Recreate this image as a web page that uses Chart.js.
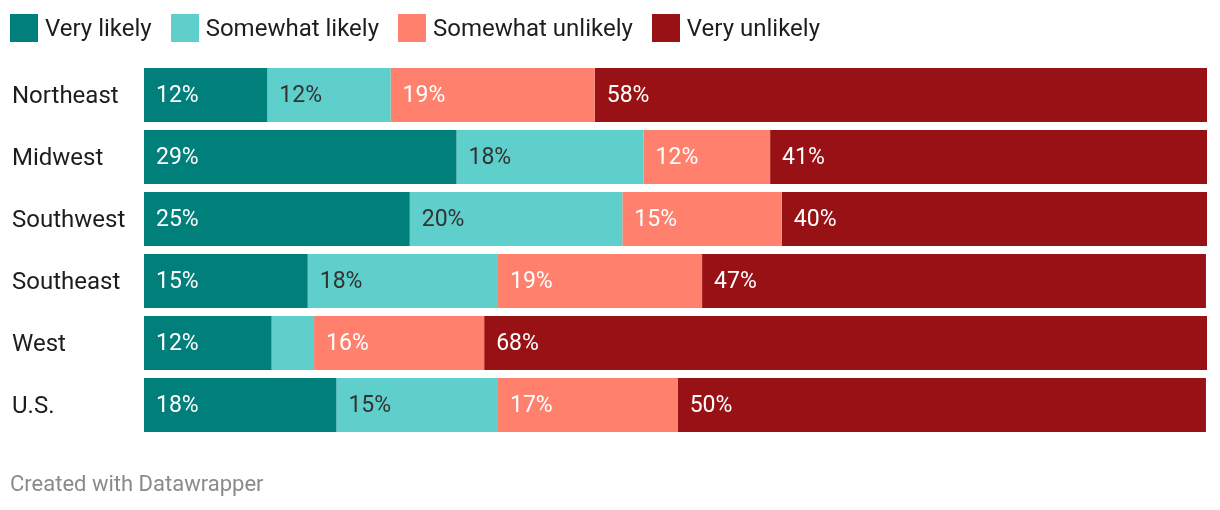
<!DOCTYPE html>
<html>
<head>
<meta charset="utf-8">
<script src="https://cdn.jsdelivr.net/npm/chart.js@4/dist/chart.umd.min.js"></script>
<style>
  html, body { margin: 0; padding: 0; background: #ffffff; }
  body { width: 1220px; height: 510px; position: relative; overflow: hidden; font-family: Roboto, sans-serif; }
  #legend { position: absolute; left: 10px; top: 14px; display: flex; align-items: center; }
  .item { display: flex; align-items: center; margin-right: 19px; }
  .swatch { width: 28px; height: 28px; margin-right: 7px; }
  .item span { font-size: 24px; color: #1d1d1d; line-height: 28px; }
  #wrap { position: absolute; left: 0; top: 0; width: 1220px; height: 510px; }
  #footer { position: absolute; left: 10px; top: 471px; font-size: 22px; color: #8a8a8a; }
</style>
</head>
<body>
<div id="wrap"><canvas id="chart"></canvas></div>
<div id="legend"></div>
<div id="footer">Created with Datawrapper</div>
<script>
const regions = ["Northeast", "Midwest", "Southwest", "Southeast", "West", "U.S."];
const seriesNames = ["Very likely", "Somewhat likely", "Somewhat unlikely", "Very unlikely"];
const veryLikely = [11.6, 29.4, 25.0, 15.4, 12.0, 18.1];
const somewhatLikely = [11.6, 17.6, 20.0, 17.9, 4.0, 15.2];
const somewhatUnlikely = [19.2, 11.9, 15.0, 19.2, 16.0, 16.9];
const veryUnlikely = [57.6, 41.2, 40.1, 47.4, 68.1, 49.7];
const colors = ["#007f7b", "#5ecfca", "#ff806c", "#971115"];
const labelColors = ["#ffffff", "#333333", "#ffffff", "#ffffff"];

const legend = document.getElementById("legend");
seriesNames.forEach((name, i) => {
  const item = document.createElement("div");
  item.className = "item";
  item.innerHTML = '<div class="swatch" style="background:' + colors[i] + '"></div><span>' + name + '</span>';
  legend.appendChild(item);
});

// draws "12%" style labels at the left edge of each segment
const segmentLabels = {
  id: "segmentLabels",
  afterDatasetsDraw(chart) {
    const ctx = chart.ctx;
    ctx.save();
    ctx.font = "23px Roboto";
    ctx.textBaseline = "middle";
    ctx.textAlign = "left";
    chart.data.datasets.forEach((ds, i) => {
      const meta = chart.getDatasetMeta(i);
      meta.data.forEach((bar, j) => {
        const w = Math.abs(bar.x - bar.base);
        if (w < 50) return;
        ctx.fillStyle = labelColors[i];
        ctx.fillText(Math.round(ds.data[j]) + "%", Math.min(bar.x, bar.base) + 12, bar.y + 1);
      });
    });
    ctx.restore();
  }
};

const allSeries = [veryLikely, somewhatLikely, somewhatUnlikely, veryUnlikely];

new Chart(document.getElementById("chart"), {
  type: "bar",
  data: {
    labels: regions,
    datasets: allSeries.map((d, i) => ({
      label: seriesNames[i],
      data: d,
      backgroundColor: colors[i],
      borderWidth: 0,
      barPercentage: 54 / 62,
      categoryPercentage: 1,
    })),
  },
  options: {
    indexAxis: "y",
    responsive: true,
    maintainAspectRatio: false,
    animation: false,
    layout: {
      padding: { left: 12, right: 13, top: 64, bottom: 74 },
    },
    plugins: {
      legend: { display: false },
      tooltip: { enabled: false },
    },
    scales: {
      x: {
        stacked: true,
        min: 0,
        max: 100,
        display: false,
      },
      y: {
        stacked: true,
        grid: { display: false },
        border: { display: false },
        ticks: {
          crossAlign: "far",
          labelOffset: 2,
          color: "#1d1d1d",
          font: { size: 24, family: "Roboto" },
        },
        afterFit(scale) {
          scale.width = 132;
        },
      },
    },
  },
  plugins: [segmentLabels],
});
</script>
</body>
</html>
